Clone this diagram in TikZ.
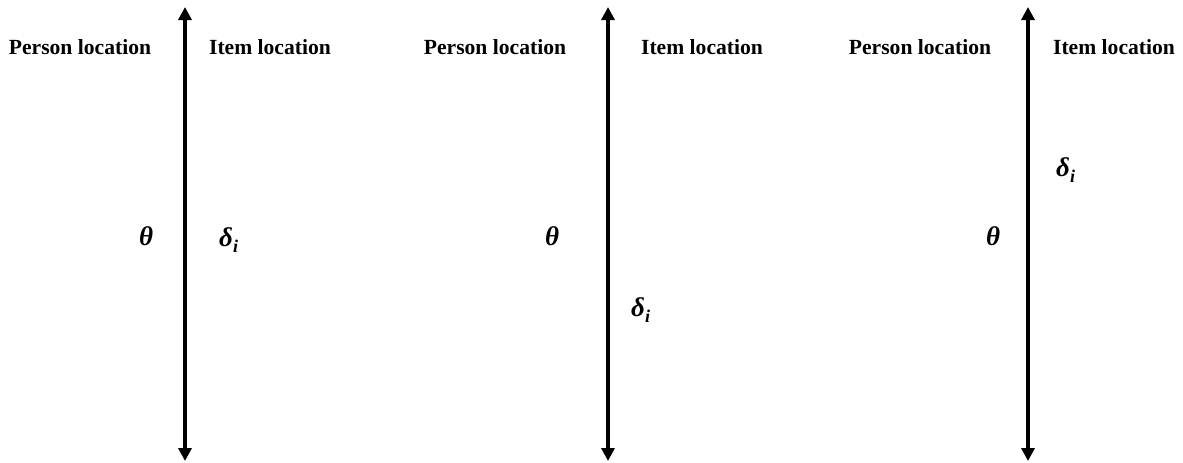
\documentclass[tikz,border=0pt]{standalone}
\usepackage{fontspec}
\setmainfont{Liberation Serif}
\newfontfamily\grk{Liberation Serif}
\usetikzlibrary{arrows.meta}
\tikzset{
  axis/.style={line width=4pt, {Triangle[width=13pt,length=13pt]}-{Triangle[width=13pt,length=13pt]}},
  lbl/.style={anchor=base, inner sep=0pt, font=\fontsize{21.6}{24}\selectfont\bfseries},
  sym/.style={anchor=base west, inner sep=0pt, font=\fontsize{27}{30}\selectfont\grk\bfseries\itshape},
}
\newcommand{\dlt}{δ\raisebox{-6pt}{\fontsize{18}{20}\selectfont i}}
\begin{document}
\begin{tikzpicture}[x=1pt,y=-1pt]
\useasboundingbox (0,0) rectangle (1183,463);
% panel 1
\coordinate (t1) at (185,7);
\coordinate (b1) at (185,461);
\draw[axis] (b1) -- (t1);
\node[lbl] (p1) at (80,54) {Person location};
\node[lbl] (i1) at (270,54) {Item location};
\node[sym] (th1) at (139,245) {θ};
\node[sym] (d1) at (219,246) {\dlt};
% panel 2
\coordinate (t2) at (608,7);
\coordinate (b2) at (608,461);
\draw[axis] (b2) -- (t2);
\node[lbl] (p2) at (495,54) {Person location};
\node[lbl] (i2) at (702,54) {Item location};
\node[sym] (th2) at (545,245) {θ};
\node[sym] (d2) at (631,316) {\dlt};
% panel 3
\coordinate (t3) at (1028,7);
\coordinate (b3) at (1028,461);
\draw[axis] (b3) -- (t3);
\node[lbl] (p3) at (920,54) {Person location};
\node[lbl] (i3) at (1114,54) {Item location};
\node[sym] (th3) at (986,245) {θ};
\node[sym] (d3) at (1056,176) {\dlt};
\end{tikzpicture}
\end{document}
